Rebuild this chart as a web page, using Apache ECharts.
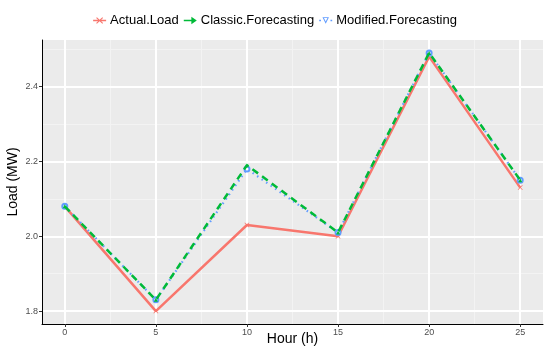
<!DOCTYPE html>
<html><head><meta charset="utf-8">
<script src="https://cdn.jsdelivr.net/npm/echarts@6/dist/echarts.min.js"></script>
<style>html,body{margin:0;padding:0;background:#fff}#c{width:550px;height:353px}</style>
</head><body><div id="c"></div>
<script>
const hours = [0, 5, 10, 15, 20, 25];
const actualLoad = [2.08, 1.80, 2.03, 2.00, 2.48, 2.13];
const classicForecasting = [2.08, 1.83, 2.19, 2.01, 2.49, 2.15];
const modifiedForecasting = [2.08, 1.83, 2.18, 2.01, 2.49, 2.15];
const xTicks = [0, 5, 10, 15, 20, 25];
const xMinor = [2.5, 7.5, 12.5, 17.5, 22.5];
const yTicks = [1.8, 2.0, 2.2, 2.4];
const yMinor = [1.9, 2.1, 2.3, 2.5];

const pair = (xs, ys) => xs.map((x, i) => [x, ys[i]]);
const xMin = -1.25, xMax = 26.25, yMin = 1.7655, yMax = 2.5245;
const font = '"Liberation Sans", Arial, sans-serif';
const crossPath = 'path://M1,0L5,4L9,0L10,1L6,5L10,9L9,10L5,6L1,10L0,9L4,5L0,1Z';
const keyActual = 'path://M0,4.3L12,4.3L12,5.7L0,5.7Z M3.5,2L6,4.3L8.5,2L9.2,2.7L6.7,5L9.2,7.3L8.5,8L6,5.7L3.5,8L2.8,7.3L5.3,5L2.8,2.7Z';
const keyClassic = 'path://M0,4.2L7,4.2L7,1.5L12,5L7,8.5L7,5.8L0,5.8Z';
const keyModified = 'path://M0,4.4H1.6V5.6H0Z M10.4,4.4H12V5.6H10.4Z M3,2H9L6,8Z M4.4,2.8L6,6L7.6,2.8Z';

const minorStyle = {color: '#F3F3F3', width: 1, type: 'solid'};
const majorStyle = {color: '#FFFFFF', width: 2, type: 'solid'};
const gridLines = [].concat(
  xMinor.map(v => ({xAxis: v, lineStyle: minorStyle})),
  yMinor.map(v => ({yAxis: v, lineStyle: minorStyle})),
  xTicks.map(v => ({xAxis: v, lineStyle: majorStyle})),
  yTicks.map(v => ({yAxis: v, lineStyle: majorStyle}))
);

const chart = echarts.init(document.getElementById('c'));
chart.setOption({
  animation: false,
  backgroundColor: '#fff',
  grid: {left: 42, right: 7, top: 40, bottom: 29, show: true, backgroundColor: '#EBEBEB', borderWidth: 0,
    containLabel: false, outerBoundsMode: 'none', z: 0},
  legend: {
    top: 9, left: 'center', itemGap: 5, itemWidth: 13, itemHeight: 10,
    textStyle: {fontFamily: font, fontSize: 13, color: '#000', padding: [0, 0, 0, -1]},
    data: [
      {name: 'Actual.Load', icon: keyActual},
      {name: 'Classic.Forecasting', icon: keyClassic},
      {name: 'Modified.Forecasting', icon: keyModified}
    ]
  },
  xAxis: {
    type: 'value', min: xMin, max: xMax, z: 2,
    name: 'Hour (h)', nameLocation: 'middle', nameGap: 8, nameMoveOverlap: false,
    nameTextStyle: {fontFamily: font, fontSize: 14, color: '#000'},
    axisLine: {show: true, onZero: false, lineStyle: {color: '#000', width: 1}},
    axisTick: {show: true, length: 3, customValues: xTicks, lineStyle: {color: '#333'}},
    axisLabel: {customValues: xTicks, fontFamily: font, fontSize: 9, color: '#4D4D4D', margin: 4},
    splitLine: {show: false}, minorTick: {show: false}, minorSplitLine: {show: false}
  },
  yAxis: {
    type: 'value', min: yMin, max: yMax, z: 2,
    name: 'Load (MW)', nameLocation: 'middle', nameGap: 22, nameMoveOverlap: false,
    nameTextStyle: {fontFamily: font, fontSize: 14, color: '#000'},
    axisLine: {show: true, onZero: false, lineStyle: {color: '#000', width: 1}},
    axisTick: {show: true, length: 3, customValues: yTicks, lineStyle: {color: '#333'}},
    axisLabel: {customValues: yTicks, fontFamily: font, fontSize: 9, color: '#4D4D4D', margin: 4,
      formatter: v => v.toFixed(1)},
    splitLine: {show: false}, minorTick: {show: false}, minorSplitLine: {show: false}
  },
  series: [
    {
      name: 'grid', type: 'line', data: [], z: 1, silent: true, legendHoverLink: false,
      markLine: {z: 1, silent: true, symbol: 'none', label: {show: false}, animation: false, data: gridLines}
    },
    {
      name: 'Actual.Load', type: 'line', data: pair(hours, actualLoad),
      symbol: crossPath, symbolSize: 5, z: 3,
      lineStyle: {color: '#F8766D', width: 2.5}, itemStyle: {color: '#F8766D'}
    },
    {
      name: 'Modified.Forecasting', type: 'line', data: pair(hours, modifiedForecasting),
      symbol: 'emptyCircle', symbolSize: 5, z: 4,
      lineStyle: {color: '#619CFF', width: 2.2, type: [1.5, 4]}, itemStyle: {color: '#619CFF', borderColor: '#619CFF'}
    },
    {
      name: 'Classic.Forecasting', type: 'line', data: pair(hours, classicForecasting),
      symbol: 'triangle', symbolSize: 4, z: 5,
      lineStyle: {color: '#00BA38', width: 2.5, type: [7, 5]}, itemStyle: {color: '#00BA38'}
    }
  ]
});
</script></body></html>
